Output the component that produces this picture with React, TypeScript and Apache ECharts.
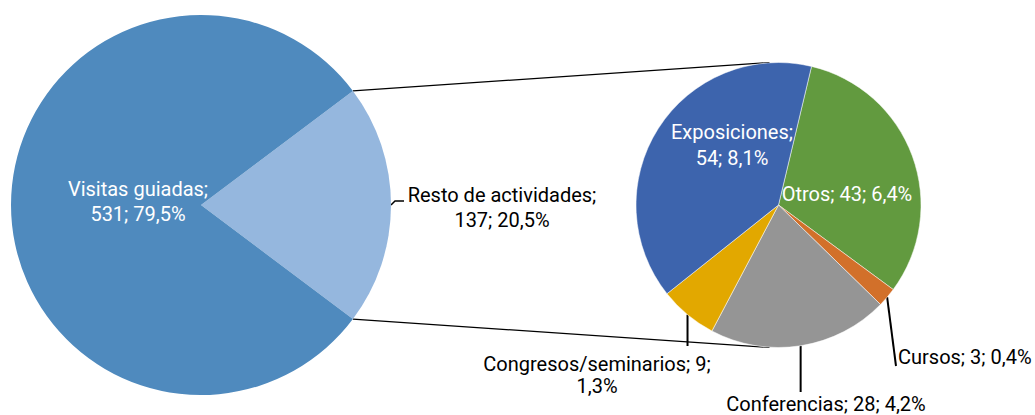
import React, { useEffect, useRef } from "react";
import * as echarts from "echarts";

const leftNames = ["Resto de actividades", "Visitas guiadas"];
const leftValues = [137, 531];
const leftColors = ["#95B7DE", "#4F8ABE"];

const rightNames = ["Otros", "Cursos", "Conferencias", "Congresos/seminarios", "Exposiciones"];
const rightValues = [43, 3, 28, 9, 54];
const rightColors = ["#629A3F", "#D2702A", "#959595", "#E2A800", "#3D64AD"];

const FONT = "Roboto";
const FS = 20;

export default function App() {
  const ref = useRef<HTMLDivElement>(null);
  useEffect(() => {
    document.body.style.margin = "0";
    const chart = echarts.init(ref.current!, null, { renderer: "svg" });
    const total = leftValues.reduce((a, b) => a + b, 0);
    const restTotal = rightValues.reduce((a, b) => a + b, 0);
    const pct = (v: number) => ((v / total) * 100).toFixed(1).replace(".", ",");

    const c1 = [201, 205];
    const r1 = 190;
    const c2 = [778.5, 205];
    const r2 = 142.5;
    const half = ((restTotal / total) * 360) / 2;
    const a = (half * Math.PI) / 180;
    const pTop = [c1[0] + r1 * Math.cos(a), c1[1] - r1 * Math.sin(a)];
    const pBot = [c1[0] + r1 * Math.cos(a), c1[1] + r1 * Math.sin(a)];

    const insideLeft = [false, true];
    const insideRight = [true, false, false, false, true];
    const twoLine = new Set(["Visitas guiadas", "Resto de actividades", "Exposiciones"]);

    const fmt = (p: any) => {
      const v = p.value as number;
      if (twoLine.has(p.name)) return `${p.name};\n${v}; ${pct(v)}%`;
      if (p.name === "Congresos/seminarios") return `${p.name}; ${v};\n${pct(v)}%`;
      return `${p.name}; ${v}; ${pct(v)}%`;
    };

    const leftLayout = (params: any) => {
      const p0 = params.labelLinePoints ? params.labelLinePoints[0] : [c1[0] + r1, c1[1]];
      if (params.dataIndex === 0) {
        return {
          x: 502, y: 207, align: "center", verticalAlign: "middle",
          labelLinePoints: [p0, [p0[0] + 4, p0[1] - 4], [p0[0] + 13, p0[1] - 4]],
        };
      }
      return { x: 138, y: 201, align: "center", verticalAlign: "middle" };
    };

    const rightLayout = (params: any) => {
      const p0 = params.labelLinePoints ? params.labelLinePoints[0] : [0, 0];
      switch (params.dataIndex) {
        case 0:
          return { x: 847, y: 194, align: "center", verticalAlign: "middle" };
        case 1:
          return { x: 898, y: 357, align: "left", verticalAlign: "middle", labelLinePoints: [p0, [896, 366]] };
        case 2:
          return { x: 826, y: 404, align: "center", verticalAlign: "middle", labelLinePoints: [p0, [p0[0], 392]] };
        case 3:
          return { x: 597, y: 375, align: "center", verticalAlign: "middle", labelLinePoints: [p0, [p0[0], 346]] };
        default:
          return { x: 732, y: 145, align: "center", verticalAlign: "middle" };
      }
    };

    const lineStyle = { stroke: "#000", lineWidth: 1.2 };

    chart.setOption({
      animation: false,
      graphic: [
        { type: "line", shape: { x1: pTop[0], y1: pTop[1], x2: c2[0] - 9, y2: c2[1] - r2 }, style: lineStyle, z: 0 },
        { type: "line", shape: { x1: pBot[0], y1: pBot[1], x2: c2[0] - 9, y2: c2[1] + r2 }, style: lineStyle, z: 0 },
      ],
      series: [
        {
          type: "pie",
          center: c1,
          radius: r1,
          startAngle: half,
          clockwise: true,
          silent: true,
          avoidLabelOverlap: false,
          z: 3,
          data: leftNames.map((n, i) => ({
            name: n,
            value: leftValues[i],
            itemStyle: { color: leftColors[i] },
            label: { color: insideLeft[i] ? "#fff" : "#000" },
            labelLine: { show: !insideLeft[i] },
          })),
          label: {
            show: true, position: "outside", formatter: fmt, overflow: "none",
            fontFamily: FONT, fontSize: FS, lineHeight: 25,
          },
          labelLine: { show: true, lineStyle: { color: "#000", width: 1.5 } },
          labelLayout: leftLayout,
        },
        {
          type: "pie",
          center: c2,
          radius: r2,
          startAngle: 90 - 13.4,
          clockwise: true,
          silent: true,
          avoidLabelOverlap: false,
          z: 3,
          data: rightNames.map((n, i) => ({
            name: n,
            value: rightValues[i],
            itemStyle: { color: rightColors[i], borderColor: "#fff", borderWidth: 0.5 },
            label: {
              color: insideRight[i] ? "#fff" : "#000",
              lineHeight: n === "Congresos/seminarios" ? 22 : 26,
            },
            labelLine: { show: !insideRight[i] },
          })),
          label: {
            show: true, position: "outside", formatter: fmt, overflow: "none",
            fontFamily: FONT, fontSize: FS,
          },
          labelLine: { show: true, lineStyle: { color: "#000", width: 2 } },
          labelLayout: rightLayout,
        },
      ],
    });
    return () => chart.dispose();
  }, []);
  return <div ref={ref} style={{ width: 1035, height: 415 }} />;
}
